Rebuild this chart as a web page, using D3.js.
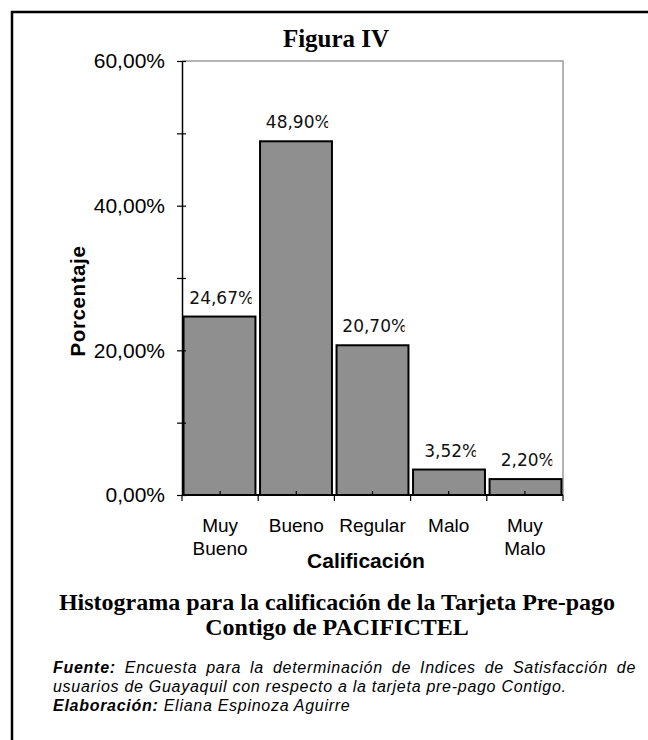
<!DOCTYPE html>
<html>
<head>
<meta charset="utf-8">
<script src="https://cdn.jsdelivr.net/npm/d3@7"></script>
<style>
  html, body { margin: 0; padding: 0; background: #fff; }
  svg { display: block; }
</style>
</head>
<body>
<svg id="chart" width="648" height="740"></svg>
<script>
// ---- data ----
const categories = ["Muy Bueno", "Bueno", "Regular", "Malo", "Muy Malo"];
const values = [24.67, 48.90, 20.70, 3.52, 2.20];
const yTicks = [0, 20, 40, 60];
const yMinorTicks = [10, 30, 50];
const chartTitle = "Figura IV";
const xTitle = "Calificación";
const yTitle = "Porcentaje";
const captionLines = ["Histograma para la calificación de la Tarjeta Pre-pago", "Contigo de PACIFICTEL"];
const sourceLabel = "Fuente:";
const sourceText = ["Encuesta para la determinación de Indices de Satisfacción de", "usuarios de Guayaquil con respecto a la tarjeta pre-pago Contigo."];
const authorLabel = "Elaboración:";
const authorText = "Eliana Espinoza Aguirre";

// ---- setup ----
const svg = d3.select("#chart");
const locale = d3.formatLocale({decimal: ",", thousands: ".", grouping: [3], currency: ["", ""]});
const fmt = v => locale.format(".2f")(v) + "%";

const plot = {left: 182, right: 563, top: 61, bottom: 495};

const x = d3.scaleBand().domain(categories).range([plot.left, plot.right])
  .paddingInner(0.06).paddingOuter(0.02);
const xStep = d3.scaleBand().domain(categories).range([plot.left, plot.right]);
const y = d3.scaleLinear().domain([0, 60]).range([plot.bottom, plot.top]);

// outer frame
svg.append("rect").attr("x", 12).attr("y", 12).attr("width", 700).attr("height", 800)
  .attr("fill", "none").attr("stroke", "#000").attr("stroke-width", 2.5);

// title
svg.append("text").attr("x", 336).attr("y", 47).attr("text-anchor", "middle")
  .attr("font-family", "Liberation Serif, Times New Roman, serif").attr("font-weight", "bold")
  .attr("font-size", 25).text(chartTitle);

// plot area border (gray top & right)
svg.append("path")
  .attr("d", `M${plot.left},${plot.top}H${plot.right}V${plot.bottom}`)
  .attr("fill", "none").attr("stroke", "#9a9a9a").attr("stroke-width", 1.5);

// bars
svg.append("g").selectAll("rect").data(values).join("rect")
  .attr("x", (d, i) => x(categories[i]))
  .attr("y", d => y(d))
  .attr("width", x.bandwidth())
  .attr("height", d => y(0) - y(d))
  .attr("fill", "#8f8f8f").attr("stroke", "#000").attr("stroke-width", 2);

// value labels (clipped like the original)
const defs = svg.append("defs");
const labG = svg.append("g");
values.forEach((d, i) => {
  const cx = x(categories[i]) + x.bandwidth() / 2;
  const t = labG.append("text")
    .attr("y", y(d) - 13)
    .attr("font-family", "DejaVu Sans, Verdana, sans-serif")
    .attr("font-size", 17).attr("fill", "#111")
    .text(fmt(d));
  const len = t.node().getComputedTextLength();
  const box = len - 2.5;
  const x0 = cx - box / 2 + 1;
  t.attr("x", x0);
  const id = "clip" + i;
  defs.append("clipPath").attr("id", id).append("rect")
    .attr("x", x0 - 2).attr("y", y(d) - 40).attr("width", box + 2).attr("height", 40);
  t.attr("clip-path", `url(#${id})`);
});

// y axis
const yAxis = svg.append("g").attr("transform", `translate(${plot.left},0)`)
  .call(d3.axisLeft(y).tickValues(yTicks).tickSizeInner(5).tickSizeOuter(0).tickPadding(12)
    .tickFormat(d => fmt(d)));
yAxis.select(".domain").attr("stroke", "#000").attr("stroke-width", 1.5);
yAxis.selectAll(".tick line").attr("x1", 4).attr("stroke", "#000").attr("stroke-width", 1.2);
yAxis.selectAll(".tick text").attr("font-family", "Liberation Sans, Arial, sans-serif")
  .attr("font-size", 21).attr("fill", "#000");

const yMinor = svg.append("g").attr("transform", `translate(${plot.left},0)`)
  .call(d3.axisLeft(y).tickValues(yMinorTicks).tickSizeInner(5).tickSizeOuter(0).tickFormat(""));
yMinor.select(".domain").remove();
yMinor.selectAll(".tick line").attr("x1", 4).attr("stroke", "#000").attr("stroke-width", 1.2);

// x axis
svg.append("line").attr("x1", plot.left).attr("x2", plot.right)
  .attr("y1", plot.bottom).attr("y2", plot.bottom).attr("stroke", "#000").attr("stroke-width", 2);
const boundaries = categories.map(c => xStep(c)).concat([plot.right]);
svg.append("g").selectAll("line").data(boundaries).join("line")
  .attr("x1", d => d).attr("x2", d => d)
  .attr("y1", plot.bottom).attr("y2", plot.bottom + 6)
  .attr("stroke", "#000").attr("stroke-width", 1.2);
svg.append("g").selectAll("line").data(categories).join("line")
  .attr("x1", d => xStep(d) + xStep.bandwidth() / 2).attr("x2", d => xStep(d) + xStep.bandwidth() / 2)
  .attr("y1", plot.bottom - 4).attr("y2", plot.bottom)
  .attr("stroke", "#000").attr("stroke-width", 1.2);

// category labels
const catG = svg.append("g").attr("font-family", "Liberation Sans, Arial, sans-serif")
  .attr("font-size", 19).attr("text-anchor", "middle").attr("fill", "#000");
categories.forEach(c => {
  const lines = c.split(" ");
  const t = catG.append("text").attr("x", xStep(c) + xStep.bandwidth() / 2).attr("y", 532);
  lines.forEach((ln, k) => {
    t.append("tspan").attr("x", xStep(c) + xStep.bandwidth() / 2).attr("dy", k === 0 ? 0 : 23).text(ln);
  });
});

// axis titles
svg.append("text").attr("x", 366).attr("y", 568).attr("text-anchor", "middle")
  .attr("font-family", "Liberation Sans, Arial, sans-serif").attr("font-weight", "bold")
  .attr("font-size", 21).text(xTitle);
svg.append("text").attr("transform", "translate(85,301) rotate(-90)").attr("text-anchor", "middle")
  .attr("font-family", "Liberation Sans, Arial, sans-serif").attr("font-weight", "bold")
  .attr("font-size", 20.5).attr("letter-spacing", 0.6).text(yTitle);

// caption
captionLines.forEach((ln, k) => {
  svg.append("text").attr("x", 337).attr("y", 610 + k * 25).attr("text-anchor", "middle")
    .attr("font-family", "Liberation Serif, Times New Roman, serif").attr("font-weight", "bold")
    .attr("font-size", 24).text(ln);
});

// source notes
const noteFont = "Liberation Sans, Arial, sans-serif";
const noteSize = 16;
const noteLS = 0.72;
const noteLeft = 53, noteRight = 636;
const l1 = svg.append("text").attr("x", noteLeft).attr("y", 673)
  .attr("font-family", noteFont).attr("font-size", noteSize).attr("font-style", "italic")
  .attr("letter-spacing", noteLS);
l1.append("tspan").attr("font-weight", "bold").text(sourceLabel);
l1.append("tspan").text(" " + sourceText[0]);
const nat = l1.node().getComputedTextLength();
const spaces = (sourceLabel + " " + sourceText[0]).split(" ").length - 1;
l1.attr("word-spacing", Math.max(0, (noteRight - noteLeft - nat) / spaces));

svg.append("text").attr("x", noteLeft).attr("y", 692)
  .attr("font-family", noteFont).attr("font-size", noteSize).attr("font-style", "italic")
  .attr("letter-spacing", noteLS).text(sourceText[1]);
const l3 = svg.append("text").attr("x", noteLeft).attr("y", 711)
  .attr("font-family", noteFont).attr("font-size", noteSize).attr("font-style", "italic")
  .attr("letter-spacing", noteLS);
l3.append("tspan").attr("font-weight", "bold").text(authorLabel);
l3.append("tspan").text(" " + authorText);
</script>
</body>
</html>
